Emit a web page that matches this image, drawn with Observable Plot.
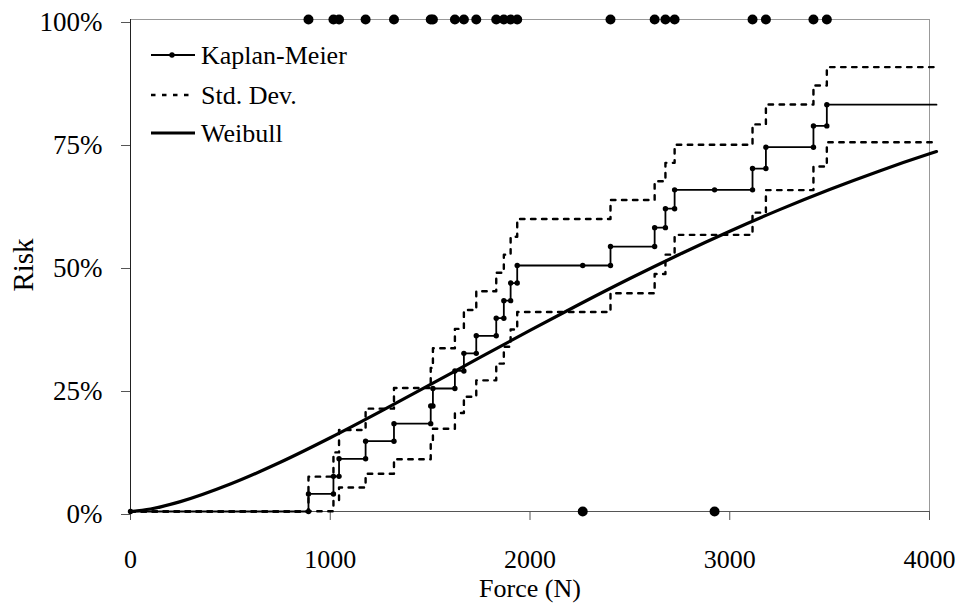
<!DOCTYPE html>
<html>
<head>
<meta charset="utf-8">
<script src="https://cdn.jsdelivr.net/npm/d3@7"></script>
<script src="https://cdn.jsdelivr.net/npm/@observablehq/plot@0.6"></script>
<style>
  html, body { margin: 0; padding: 0; background: #fff; }
  svg { display: block; }
</style>
</head>
<body>
<div id="chart"></div>
<script>
// ---- data ----
const failForce = [891,1016,1044,1177,1319,1503,1514,1624,1669,1731,1831,1869,1903,1936,2403,2624,2678,2724,3114,3181,3419,3486];
const kmRisk    = [3.57,7.14,10.71,14.29,17.86,21.43,25.00,28.57,32.14,35.71,39.29,42.86,46.43,50.00,53.85,57.69,61.54,65.38,69.71,74.04,78.37,82.69];
const sdUpper   = [7.08,12.01,16.56,20.90,25.10,29.18,33.18,37.11,40.97,44.77,48.52,52.21,55.85,59.45,63.32,67.12,70.86,74.54,78.68,82.71,86.60,90.33];
const sdLower   = [0.06,2.28,4.87,7.67,10.62,13.67,16.82,20.03,23.32,26.66,30.06,33.50,37.00,40.55,44.37,48.26,52.21,56.23,60.74,65.33,70.13,75.05];
const censoredForce = [2264, 2924];
const endForce = 4035;
const wbForce = [0,100,250,500,750,1000,1250,1500,1750,2000,2250,2500,2750,3000,3250,3500,3750,4000,4035];
const wbRisk  = [0,0.51,2.01,5.58,10.00,14.98,20.29,25.78,31.32,36.81,42.17,47.35,52.29,56.97,61.36,65.45,69.23,72.70,73.16];
const xTicks = [0,1000,2000,3000,4000];
const yTicks = [0,25,50,75,100];
const legendLabels = ["Kaplan-Meier","Std. Dev.","Weibull"];

// ---- build tables ----
const events = failForce.map((f,i)=>({f, type:"fail", i}))
  .concat(censoredForce.map(f=>({f, type:"cens"})))
  .sort((a,b)=>a.f-b.f);
const kmPts = [{f:0, r:0, dot:true}];
let prev = 0;
for (const e of events) {
  if (e.type === "fail") {
    kmPts.push({f:e.f, r:prev, dot:true});
    prev = kmRisk[e.i];
    kmPts.push({f:e.f, r:prev, dot:true});
  } else {
    kmPts.push({f:e.f, r:prev, dot:true});
  }
}
kmPts.push({f:endForce, r:prev, dot:false});
const band = arr => [{f:0,r:0}].concat(failForce.map((f,i)=>({f, r:arr[i]}))).concat([{f:endForce-5, r:arr[arr.length-1]}]);
const upper = band(sdUpper), lower = band(sdLower);
const wb = wbForce.map((f,i)=>({f, r:wbRisk[i]}));
const font = "'Liberation Serif', 'Times New Roman', serif";

const chart = Plot.plot({
  width: 963, height: 603,
  marginLeft: 130, marginRight: 34, marginTop: 19, marginBottom: 92,
  x: {domain:[0,4000]},
  y: {domain:[0,100]},
  style: {fontFamily: font, background: "#fff", color: "#000"},
  marks: [
    Plot.ruleY([100], {stroke:"#999", strokeWidth:1}),
    Plot.ruleX([4000], {stroke:"#999", strokeWidth:1}),
    Plot.axisX({ticks: xTicks, tickSize: 9, tickPadding: 29, fontSize: 26, tickFormat: d=>String(d), label: null, stroke:"#555"}),
    Plot.axisY({ticks: yTicks, tickSize: 9, tickPadding: 19, fontSize: 27, tickFormat: d=>d+"%", label: null, dy: 3, stroke:"#555"}),
    Plot.ruleY([0], {stroke:"#555"}),
    Plot.ruleX([0], {stroke:"#222"}),
    Plot.line(upper, {x:"f", y:"r", curve:"step-after", stroke:"#000", strokeWidth:2.4, strokeDasharray:"4.5,6.5"}),
    Plot.line(lower, {x:"f", y:"r", curve:"step-after", stroke:"#000", strokeWidth:2.4, strokeDasharray:"4.5,6.5"}),
    Plot.line(wb, {x:"f", y:"r", curve:"monotone-x", stroke:"#000", strokeWidth:3.2}),
    Plot.line(kmPts, {x:"f", y:"r", stroke:"#000", strokeWidth:1.8}),
    Plot.dot(kmPts.filter(d=>d.dot), {x:"f", y:"r", r:2.7, fill:"#000"}),
    Plot.dot(failForce, {x:d=>d, y:()=>100, r:5, fill:"#000"}),
    Plot.dot(censoredForce, {x:d=>d, y:()=>0, r:5, fill:"#000"})
  ]
});
document.getElementById("chart").appendChild(chart);

// ---- titles and in-plot legend ----
const svg = d3.select(chart);
svg.append("text").text("Force (N)")
  .attr("x", 530).attr("y", 597).attr("text-anchor","middle")
  .attr("font-family", font).attr("font-size", 26).attr("fill","#000");
svg.append("text").text("Risk")
  .attr("transform","translate(33,265) rotate(-90)").attr("text-anchor","middle")
  .attr("font-family", font).attr("font-size", 29).attr("fill","#000");

const lg = svg.append("g");
const rowY = [55, 95, 133];
legendLabels.forEach((lab, i) => {
  const y = rowY[i];
  const ln = lg.append("line").attr("x1",151).attr("x2",195).attr("y1",y).attr("y2",y).attr("stroke","#000");
  if (i === 0) {
    ln.attr("stroke-width",1.8);
    lg.append("circle").attr("cx",172).attr("cy",y).attr("r",2.7).attr("fill","#000");
  } else if (i === 1) {
    ln.attr("stroke-width",2.4).attr("stroke-dasharray","4.5,6.5");
  } else {
    ln.attr("stroke-width",3.2);
  }
  lg.append("text").text(lab).attr("x",201).attr("y",y+8.5).attr("text-anchor","start")
    .attr("font-family", font).attr("font-size", 26).attr("fill","#000");
});
</script>
</body>
</html>
